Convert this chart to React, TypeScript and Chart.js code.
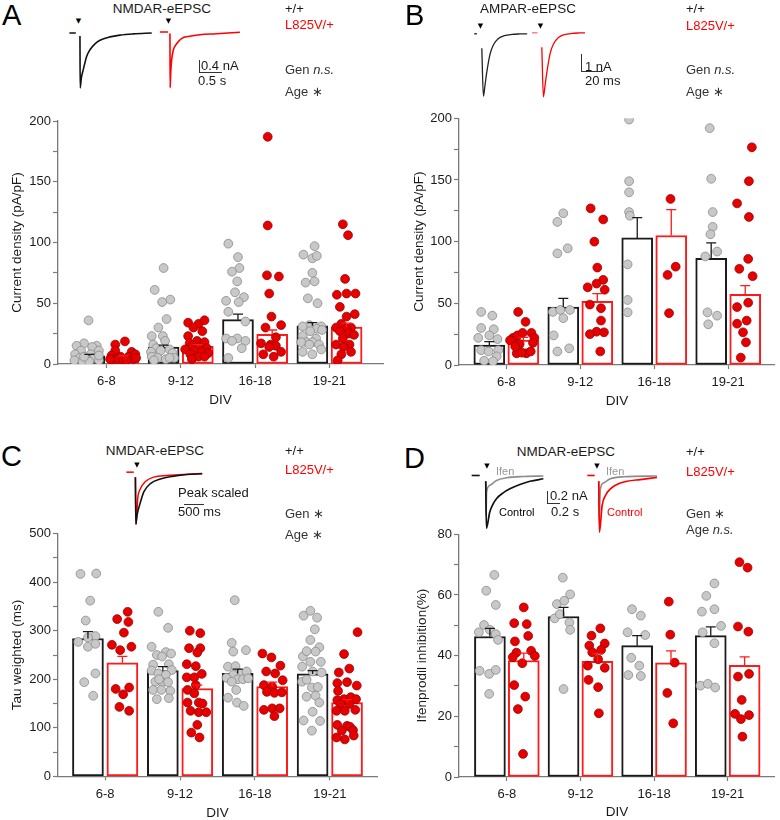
import React, { useEffect, useRef } from 'react';
import { Chart, registerables } from 'chart.js';

Chart.register(...registerables);

const FONT = "'Liberation Sans', Arial, Helvetica, sans-serif";
Chart.defaults.font.family = FONT;
Chart.defaults.font.size = 13;
Chart.defaults.color = '#1a1a1a';

type Dot = [number, number]; // [jitter in category units, value]
type Pt = [number, number];

const categories = ['6-8', '9-12', '16-18', '19-21'];

// ---------- Panel A: NMDAR current density ----------
const aWtMean = [6.8, 14, 36.5, 31.5];
const aWtSem = [1.2, 1.5, 4.5, 2.5];
const aMutMean = [5.8, 14.5, 24.4, 30.4];
const aMutSem = [1.0, 1.5, 3.6, 3.3];
const aWtDots: Dot[][] = [
  [[-0.01, 35.9], [-0.07, 17], [-0.17, 15], [0.10, 15], [0.04, 14], [-0.11, 11], [0.13, 11], [-0.19, 8], [0.02, 8], [-0.13, 5], [0.07, 5], [-0.04, 5], [-0.20, 3], [-0.09, 2], [0, 2], [0.13, 3], [0.13, 7], [-0.07, 6]],
  [[0, 79], [-0.12, 61], [0.09, 53], [-0.02, 51], [0.04, 37], [-0.07, 30], [-0.16, 23], [-0.01, 23], [0.02, 19], [-0.14, 16], [-0.10, 13], [0.08, 12], [-0.17, 10], [-0.04, 11], [0.12, 9], [-0.16, 6], [-0.08, 5], [0.03, 4], [0.14, 5], [-0.13, 3], [0.08, 5]],
  [[-0.13, 99], [0, 88], [0.02, 79], [-0.08, 76], [-0.01, 68], [-0.04, 59], [0.08, 55], [-0.16, 52], [0.01, 51], [-0.13, 43], [0.10, 35], [-0.16, 21], [-0.01, 21], [-0.08, 19], [0.10, 19], [0.05, 13], [-0.13, 5]],
  [[0.03, 97], [-0.12, 90], [0, 87], [0.06, 89], [0, 75], [-0.09, 67], [0.03, 68], [-0.06, 54], [0.07, 50], [-0.04, 32], [-0.13, 31], [0.12, 31], [0.06, 29], [0.13, 28], [-0.03, 27], [0.05, 21], [-0.13, 23], [-0.08, 18], [0, 18], [-0.15, 18], [0.09, 16], [-0.04, 16], [0.12, 12], [-0.13, 10], [0, 8]],
];
const aMutDots: Dot[][] = [
  [[0.02, 18.6], [-0.11, 16], [-0.11, 11], [0.11, 10], [0.16, 8], [-0.16, 7], [-0.04, 6], [0.07, 6], [-0.13, 4], [-0.07, 4], [0, 3], [0.13, 4], [0.17, 5], [-0.18, 4], [0.04, 3]],
  [[-0.13, 34], [0.01, 33], [0.09, 36], [-0.06, 30], [0.06, 27], [-0.13, 23], [-0.01, 19], [0.09, 18], [-0.11, 17], [-0.07, 15], [0.02, 14], [0.12, 13], [-0.17, 12], [-0.04, 11], [0.05, 10], [0.14, 9], [-0.10, 8], [0.01, 6], [0.09, 6], [-0.08, 4]],
  [[-0.06, 187], [-0.06, 114], [-0.07, 73], [0.09, 72], [-0.04, 58], [-0.01, 39], [0.12, 32], [-0.09, 30], [0.05, 22], [-0.15, 17], [-0.02, 16], [0.05, 15], [-0.04, 14], [-0.12, 8], [0.02, 6], [0.12, 10]],
  [[-0.05, 115], [0.02, 106], [-0.02, 70], [-0.13, 57], [0, 58], [0.12, 58], [-0.09, 47], [0, 39], [0.11, 41], [-0.07, 33], [0.06, 30], [-0.14, 30], [0, 29], [-0.09, 27], [0.03, 25], [0.10, 24], [-0.05, 21], [-0.14, 16], [0.04, 16], [-0.04, 14], [0.06, 10], [-0.07, 8], [-0.12, 3]],
];

// ---------- Panel B: AMPAR current density ----------
const bWtMean = [16.2, 47, 103, 86.5];
const bWtSem = [2.8, 7, 16.5, 12.5];
const bMutMean = [20.3, 51.6, 105, 57.3];
const bMutSem = [2.1, 6.2, 21, 7];
const bWtDots: Dot[][] = [
  [[-0.11, 43], [0.04, 40], [-0.11, 30], [0.06, 29], [-0.15, 22], [0, 24], [0.11, 21], [-0.11, 12], [-0.01, 11], [0.12, 12], [0.10, 7], [-0.07, 3.5], [0.05, 3]],
  [[-0.08, 116], [0, 123], [0.06, 94.6], [-0.08, 90.5], [-0.14, 43], [-0.04, 44.6], [0.09, 44.6], [0, 38], [-0.13, 24], [-0.08, 11], [0.08, 13.5]],
  [[-0.11, 199], [-0.11, 149], [-0.11, 140], [-0.11, 124], [-0.10, 121], [-0.13, 81.6], [-0.13, 52.7], [-0.13, 42.7]],
  [[-0.02, 192], [0, 151], [0.02, 124], [0.02, 112], [-0.01, 106], [-0.08, 88], [0.08, 92], [-0.05, 42.7], [0.08, 40], [-0.04, 33]],
];
const bMutDots: Dot[][] = [
  [[-0.07, 43], [0.03, 35], [-0.14, 22], [-0.08, 24], [-0.01, 26], [0.11, 26], [-0.18, 20], [0.15, 22], [0.13, 18], [-0.05, 17], [-0.09, 9.5], [0.04, 9.5], [0.10, 11], [-0.02, 10], [-0.11, 15]],
  [[-0.09, 127], [0.08, 118], [-0.04, 100], [0, 79], [0.08, 69], [-0.01, 66], [-0.13, 63], [0.10, 61], [-0.10, 49], [0.05, 46], [0.05, 36], [-0.01, 27], [0.09, 26.5], [-0.10, 25], [0.04, 11]],
  [[-0.01, 134.6], [0.06, 79.7], [-0.05, 73], [-0.03, 42]],
  [[0.09, 176.5], [0.05, 149], [-0.11, 131], [0.05, 120], [0.04, 86], [-0.08, 78], [0.10, 72], [0.04, 50.5], [-0.11, 47], [0.02, 36], [-0.11, 33.5], [-0.03, 26.5], [0.01, 18.4], [-0.06, 6]],
];

// ---------- Panel C: weighted tau ----------
const cWtMean = [284, 218, 212, 211];
const cWtSem = [14, 8, 9, 7];
const cMutMean = [234, 181, 185, 152];
const cMutSem = [13, 7, 9, 6];
const cWtDots: Dot[][] = [
  [[-0.10, 417], [0.11, 418], [0.03, 362], [-0.03, 321], [-0.13, 277], [0.10, 289], [0, 286], [0, 267], [0.10, 273], [0.10, 212], [-0.05, 194], [0.07, 166]],
  [[-0.06, 339], [0.07, 306], [-0.15, 267], [-0.08, 250], [0.04, 256], [0.11, 253], [-0.01, 247], [-0.13, 230], [0.08, 231], [0.12, 219], [-0.15, 218], [-0.06, 212], [0.04, 209], [-0.10, 195], [-0.01, 194], [0.07, 194], [-0.05, 200], [-0.13, 178], [-0.02, 178], [0.10, 176], [-0.08, 159], [0.08, 161]],
  [[-0.04, 363], [-0.08, 275], [-0.06, 257], [0.11, 260], [-0.13, 226], [-0.03, 227], [0.04, 212], [0.12, 216], [-0.06, 209], [-0.15, 203], [0, 200], [0.07, 200], [0.14, 202], [-0.08, 195], [-0.02, 178], [-0.13, 162], [-0.01, 152], [0.08, 145]],
  [[-0.12, 331], [-0.03, 341], [0.06, 327], [0.03, 303], [-0.03, 281], [0.09, 266], [-0.13, 247], [-0.08, 258], [0.04, 257], [-0.03, 236], [0.11, 236], [-0.14, 226], [0, 216], [0.12, 214], [-0.14, 195], [-0.08, 199], [-0.01, 183], [0.07, 184], [-0.08, 164], [0.04, 166], [0.09, 152], [0, 133], [0.10, 114], [-0.12, 115], [-0.01, 94]],
];
const cMutDots: Dot[][] = [
  [[-0.07, 324], [0.07, 339], [0.08, 318], [0.02, 296], [-0.14, 271], [-0.03, 260], [0.12, 267], [-0.09, 180], [0.09, 183], [0.01, 169], [-0.04, 143], [0.09, 135]],
  [[-0.10, 300], [0.04, 295], [-0.11, 264], [0.04, 264], [0, 255], [-0.14, 231], [-0.02, 227], [-0.14, 204], [-0.04, 204], [0.06, 211], [-0.13, 178], [-0.02, 188], [-0.04, 171], [-0.13, 152], [0.02, 152], [0.07, 150], [-0.09, 135], [0.02, 132], [0.12, 132], [0, 106], [-0.08, 90], [0.03, 80]],
  [[-0.13, 253], [-0.01, 245], [0.11, 228], [-0.08, 216], [0.04, 212], [0.14, 198], [-0.11, 188], [0, 185], [-0.07, 174], [0.03, 172], [0.13, 173], [-0.11, 137], [0, 140], [0.10, 140], [0.03, 124]],
  [[0.14, 297], [-0.04, 252], [0.03, 222], [-0.11, 214], [-0.13, 192], [0, 194], [0.13, 187], [-0.12, 176], [-0.04, 159], [0.05, 163], [-0.13, 157], [0.12, 159], [-0.09, 149], [0.03, 149], [0.11, 137], [-0.14, 135], [-0.03, 135], [-0.13, 106], [0, 104], [0.04, 102], [0.08, 95], [-0.07, 94], [-0.14, 80], [-0.03, 76], [0.09, 84]],
];

// ---------- Panel D: ifenprodil inhibition ----------
const dWtMean = [46.3, 52.9, 43.3, 46.6];
const dWtSem = [2.7, 3.0, 3.3, 2.9];
const dMutMean = [38.4, 38.1, 37.6, 36.8];
const dMutSem = [2.4, 2.6, 4.0, 2.8];
const dWtDots: Dot[][] = [
  [[0.06, 66.6], [-0.05, 61.4], [0.08, 56.7], [-0.08, 50.1], [-0.15, 47.7], [0, 48.5], [0.08, 47.1], [0.11, 45.2], [-0.14, 35], [-0.01, 34], [0.08, 35.3], [-0.01, 27.4]],
  [[-0.01, 65.7], [-0.09, 57], [0.01, 58.1], [0.09, 60.2], [-0.12, 52.3], [-0.05, 53.7], [0.08, 50.9], [0.09, 48.5], [0, 29]],
  [[-0.07, 55.3], [0.05, 53.2], [-0.13, 47.7], [0.11, 46.8], [-0.08, 39.3], [0.03, 36.7], [-0.12, 33.6], [0.05, 33.3]],
  [[0.05, 63.8], [-0.06, 59.7], [-0.12, 54.5], [0.05, 55.3], [0.14, 49.8], [-0.11, 47.7], [0.05, 44.1], [-0.14, 30.1], [-0.04, 30.7], [0.06, 29.5]],
];
const dMutDots: Dot[][] = [
  [[0, 55.9], [-0.13, 50.7], [0.04, 50.4], [-0.12, 44.7], [0.06, 46.5], [-0.10, 41], [0.10, 41.6], [-0.15, 39.5], [0.15, 39.9], [-0.02, 37.5], [-0.13, 30.3], [0.02, 26.5], [-0.08, 22.4], [-0.01, 7.6]],
  [[0.04, 49], [-0.08, 46.6], [0.10, 44], [-0.11, 43.3], [0.05, 41.9], [-0.07, 41.1], [0.01, 38.8], [-0.13, 36.7], [0.10, 36], [-0.12, 32], [0.01, 29.6], [0.02, 21]],
  [[-0.03, 57.8], [-0.01, 46.9], [0.05, 37.7], [-0.05, 27.7], [0.03, 17.7]],
  [[-0.07, 70.8], [0.04, 69], [-0.09, 49.6], [0.05, 47.9], [-0.09, 33.1], [0.06, 34], [-0.04, 25.4], [-0.13, 20.8], [0.06, 20.4], [-0.05, 19.1], [-0.03, 13.3]],
];

// ---------- Example traces [time, current] ----------
// A: NMDAR-eEPSC (s, nA)
const aWtBase: Pt[] = [[-0.23, 0], [-0.09, 0]];
const aWtTrace: Pt[] = [[0, -0.1], [0.005, -1.83], [0.03, -1.5], [0.072, -1.22], [0.145, -0.78], [0.217, -0.56], [0.326, -0.36], [0.435, -0.24], [0.65, -0.13], [0.87, -0.07], [1.16, -0.03], [1.56, 0]];
const aMutBase: Pt[] = [[-0.22, 0], [-0.04, 0]];
const aMutTrace: Pt[] = [[0, -0.05], [0.004, -1.86], [0.015, -1.4], [0.036, -0.94], [0.072, -0.61], [0.145, -0.39], [0.25, -0.22], [0.43, -0.14], [0.65, -0.09], [1.01, -0.06], [1.52, -0.01]];
// B: AMPAR-eEPSC (ms, nA)
const bWtBase: Pt[] = [[-7, 0], [-4.6, 0]];
const bWtTrace: Pt[] = [[0, -0.9], [1.5, -3.9], [3, -3.2], [4.6, -2.4], [7.7, -1.25], [10.7, -0.7], [15.4, -0.3], [21, -0.12], [28, -0.04], [35, -0.01], [42, 0]];
const bMutBase: Pt[] = [[-9, 0], [-4, 0]];
const bMutTrace: Pt[] = [[0, -0.9], [1.5, -4.0], [3, -3.3], [4.6, -2.5], [7.7, -1.3], [10.7, -0.72], [15.4, -0.3], [21, -0.12], [28, -0.04], [35, -0.01], [40, 0]];
// C: peak-scaled NMDAR-eEPSC (s, normalized)
const cWtTrace: Pt[] = [[0, -0.1], [0.01, -1], [0.04, -0.83], [0.125, -0.58], [0.21, -0.38], [0.375, -0.22], [0.625, -0.13], [0.96, -0.077], [1.29, -0.045], [1.67, -0.03]];
const cMutBase: Pt[] = [[-0.225, 0], [-0.04, 0]];
const cMutTrace: Pt[] = [[0, -0.1], [0.017, -1], [0.058, -0.51], [0.125, -0.32], [0.25, -0.18], [0.46, -0.096], [0.79, -0.064], [1.21, -0.045], [1.67, -0.026]];
// D: control vs ifenprodil (s, nA)
const dWtBase: Pt[] = [[-0.21, 0], [-0.09, 0]];
const dWtControl: Pt[] = [[0, -0.1], [0.01, -0.91], [0.06, -0.63], [0.11, -0.49], [0.16, -0.40], [0.26, -0.30], [0.36, -0.23], [0.51, -0.155], [0.66, -0.10], [0.86, -0.057]];
const dWtIfen: Pt[] = [[0, -0.1], [0.005, -0.7], [0.012, -0.29], [0.06, -0.17], [0.16, -0.086], [0.31, -0.04], [0.56, -0.017], [0.86, -0.01]];
const dMutBase: Pt[] = [[-0.17, 0], [-0.06, 0]];
const dMutControl: Pt[] = [[0, -0.1], [0.01, -0.98], [0.05, -0.52], [0.1, -0.345], [0.174, -0.23], [0.27, -0.155], [0.42, -0.10], [0.62, -0.07], [0.87, -0.035]];
const dMutIfen: Pt[] = [[0, -0.1], [0.005, -0.75], [0.025, -0.23], [0.075, -0.126], [0.174, -0.057], [0.37, -0.023], [0.87, -0.01]];

// ---------- styling ----------
const OFF = 0.23;
const BAR_PX = 31;
const AXIS = '#7a7a7a';
const WT_LINE = '#1a1a1a';
const MUT_LINE = '#ff1a1a';
const RED = '#ff0000';
const TITLE_SIZE = 13.5;

type PanelCfg = {
  left: number; top: number; width: number; height: number;
  padTop: number; padRight: number; yWidth: number; xHeight: number;
  xMin: number; xMax: number; yMax: number; yStep: number; yLabelStep: number;
  yTitle: string; yTitlePad: number; xTitlePad: number;
  wtMean: number[]; wtSem: number[]; mutMean: number[]; mutSem: number[];
  wtDots: Dot[][]; mutDots: Dot[][];
};

function BarDotChart({ cfg }: { cfg: PanelCfg }) {
  const ref = useRef<HTMLCanvasElement>(null);
  useEffect(() => {
    if (!ref.current) return;
    const flat = (dots: Dot[][], off: number) =>
      dots.flatMap((g, i) => g.map(([dx, v]) => ({ x: i + off + dx, y: v })));
    const errPlugin = {
      id: 'errbars',
      afterDatasetsDraw(chart: any) {
        const { ctx } = chart;
        const xs = chart.scales.x, ys = chart.scales.y;
        const draw = (means: number[], sems: number[], off: number, color: string) => {
          means.forEach((m, i) => {
            const px = xs.getPixelForValue(i + off);
            const y0 = ys.getPixelForValue(m);
            const y1 = ys.getPixelForValue(m + sems[i]);
            ctx.save();
            ctx.strokeStyle = color;
            ctx.lineWidth = 1.3;
            ctx.beginPath();
            ctx.moveTo(px, y0);
            ctx.lineTo(px, y1);
            ctx.moveTo(px - 5, y1);
            ctx.lineTo(px + 5, y1);
            ctx.stroke();
            ctx.restore();
          });
        };
        draw(cfg.wtMean, cfg.wtSem, -OFF, WT_LINE);
        draw(cfg.mutMean, cfg.mutSem, OFF, MUT_LINE);
      },
    };
    const chart = new Chart(ref.current, {
      type: 'bar',
      data: {
        datasets: [
          {
            type: 'scatter', data: flat(cfg.wtDots, -OFF), order: 1,
            pointRadius: 4.4, backgroundColor: '#c8c8c8', borderColor: '#8a8a8a', borderWidth: 0.8,
          } as any,
          {
            type: 'scatter', data: flat(cfg.mutDots, OFF), order: 1,
            pointRadius: 4.4, backgroundColor: '#e60000', borderColor: '#990000', borderWidth: 0.8,
          } as any,
          {
            type: 'bar', data: cfg.wtMean.map((m, i) => ({ x: i - OFF, y: m })), order: 3,
            barThickness: BAR_PX, grouped: false, backgroundColor: '#ffffff', borderColor: WT_LINE,
            borderWidth: 2, borderSkipped: false,
          } as any,
          {
            type: 'bar', data: cfg.mutMean.map((m, i) => ({ x: i + OFF, y: m })), order: 3,
            barThickness: BAR_PX, grouped: false, backgroundColor: '#ffffff', borderColor: MUT_LINE,
            borderWidth: 2, borderSkipped: false,
          } as any,
        ],
      },
      options: {
        animation: false,
        responsive: false,
        devicePixelRatio: 1,
        events: [],
        layout: { padding: { left: 0, top: cfg.padTop, right: cfg.padRight, bottom: 0 } },
        plugins: { legend: { display: false }, tooltip: { enabled: false } },
        scales: {
          x: {
            type: 'linear', min: cfg.xMin, max: cfg.xMax, offset: false,
            afterBuildTicks: (s: any) => { s.ticks = categories.map((_, i) => ({ value: i })); },
            afterFit: (s: any) => { s.height = cfg.xHeight; },
            ticks: {
              autoSkip: false, maxRotation: 0, padding: 6, color: '#1a1a1a', font: { size: 13 },
              callback: (v: any) => categories[Math.round(Number(v))] ?? '',
            },
            grid: { display: true, offset: false, drawOnChartArea: false, drawTicks: true, tickLength: 4, color: AXIS, tickWidth: 1.2 },
            border: { display: true, color: AXIS, width: 1.3 },
            title: { display: true, text: 'DIV', color: '#1a1a1a', font: { size: TITLE_SIZE, lineHeight: 1 }, padding: { top: 0, bottom: cfg.xTitlePad } },
          },
          y: {
            type: 'linear', min: 0, max: cfg.yMax,
            afterFit: (s: any) => { s.width = cfg.yWidth; },
            ticks: {
              stepSize: cfg.yStep, padding: 2, color: '#1a1a1a', font: { size: 13 },
              callback: (v: any) => (Math.round(Number(v)) % cfg.yLabelStep === 0 ? String(v) : ''),
            },
            grid: { display: true, drawOnChartArea: false, drawTicks: true, tickLength: 5, color: AXIS, tickWidth: 1.2 },
            border: { display: true, color: AXIS, width: 1.3 },
            title: { display: true, text: cfg.yTitle, color: '#1a1a1a', font: { size: TITLE_SIZE, lineHeight: 1 }, padding: { top: cfg.yTitlePad, bottom: 0 } },
          },
        },
      } as any,
      plugins: [errPlugin],
    });
    return () => chart.destroy();
  }, [cfg]);
  return (
    <canvas
      ref={ref}
      width={cfg.width}
      height={cfg.height}
      style={{ position: 'absolute', left: cfg.left, top: cfg.top, width: cfg.width, height: cfg.height }}
    />
  );
}

type TraceSeries = { pts: Pt[]; color: string; w: number };
type TraceCfg = {
  x0: number; y0: number; sx: number; sy: number;
  xMin: number; xMax: number; yMin: number; yMax: number;
  series: TraceSeries[];
};

function Trace({ cfg }: { cfg: TraceCfg }) {
  const ref = useRef<HTMLCanvasElement>(null);
  const width = Math.round((cfg.xMax - cfg.xMin) * cfg.sx);
  const height = Math.round((cfg.yMax - cfg.yMin) * cfg.sy);
  const left = cfg.x0 + cfg.xMin * cfg.sx;
  const top = cfg.y0 - cfg.yMax * cfg.sy;
  useEffect(() => {
    if (!ref.current) return;
    const chart = new Chart(ref.current, {
      type: 'line',
      data: {
        datasets: cfg.series.map((s) => ({
          data: s.pts.map(([x, y]) => ({ x, y })),
          borderColor: s.color,
          borderWidth: s.w,
          pointRadius: 0,
          cubicInterpolationMode: 'monotone',
          fill: false,
          clip: false,
        })),
      },
      options: {
        animation: false,
        responsive: false,
        devicePixelRatio: 1,
        events: [],
        layout: { padding: 0 },
        plugins: { legend: { display: false }, tooltip: { enabled: false } },
        scales: {
          x: { type: 'linear', display: false, min: cfg.xMin, max: cfg.xMin + width / cfg.sx },
          y: { type: 'linear', display: false, min: cfg.yMax - height / cfg.sy, max: cfg.yMax },
        },
      } as any,
    });
    return () => chart.destroy();
  }, [cfg]);
  return (
    <canvas
      ref={ref}
      width={width}
      height={height}
      style={{ position: 'absolute', left, top, width, height }}
    />
  );
}

function Txt({ x, y, size = 13, color = '#1a1a1a', center = false, children }: any) {
  const style: React.CSSProperties = {
    position: 'absolute', top: y - 0.13 * size, fontSize: size, lineHeight: 1,
    color, fontFamily: FONT, whiteSpace: 'nowrap',
  };
  if (center) {
    style.left = x - 150; style.width = 300; style.textAlign = 'center';
  } else {
    style.left = x;
  }
  return <div style={style}>{children}</div>;
}

function Arrow({ x, y }: { x: number; y: number }) {
  return (
    <div style={{
      position: 'absolute', left: x - 5, top: y - 0.5, width: 10, textAlign: 'center',
      fontSize: 7, lineHeight: 1, color: '#000', fontFamily: "'DejaVu Sans', sans-serif",
    }}>▼</div>
  );
}

function Bar({ x, y, w, h }: { x: number; y: number; w: number; h: number }) {
  return <div style={{ position: 'absolute', left: x, top: y, width: w, height: h, background: '#333' }} />;
}

const panelA: PanelCfg = {
  left: 0, top: 100, width: 390, height: 310, padTop: 21, padRight: 7, yWidth: 58, xHeight: 46,
  xMin: -0.65, xMax: 3.72, yMax: 200, yStep: 25, yLabelStep: 50,
  yTitle: 'Current density (pA/pF)', yTitlePad: 11, xTitlePad: 2.5,
  wtMean: aWtMean, wtSem: aWtSem, mutMean: aMutMean, mutSem: aMutSem, wtDots: aWtDots, mutDots: aMutDots,
};
const panelB: PanelCfg = {
  left: 390, top: 100, width: 390, height: 310, padTop: 18.3, padRight: 2, yWidth: 69, xHeight: 45,
  xMin: -0.64, xMax: 3.63, yMax: 200, yStep: 25, yLabelStep: 50,
  yTitle: 'Current density (pA/pF)', yTitlePad: 22.5, xTitlePad: 1.5,
  wtMean: bWtMean, wtSem: bWtSem, mutMean: bMutMean, mutSem: bMutSem, wtDots: bWtDots, mutDots: bMutDots,
};
const panelC: PanelCfg = {
  left: 0, top: 510, width: 390, height: 310, padTop: 23.7, padRight: 13, yWidth: 58, xHeight: 43.7,
  xMin: -0.63, xMax: 3.63, yMax: 500, yStep: 50, yLabelStep: 100,
  yTitle: 'Tau weighted (ms)', yTitlePad: 11, xTitlePad: 0.2,
  wtMean: cWtMean, wtSem: cWtSem, mutMean: cMutMean, mutSem: cMutSem, wtDots: cWtDots, mutDots: cMutDots,
};
const panelD: PanelCfg = {
  left: 390, top: 510, width: 390, height: 310, padTop: 24.3, padRight: 2, yWidth: 69, xHeight: 43,
  xMin: -0.65, xMax: 3.64, yMax: 80, yStep: 10, yLabelStep: 20,
  yTitle: 'Ifenprodil inhibition(%)', yTitlePad: 25.5, xTitlePad: 0.5,
  wtMean: dWtMean, wtSem: dWtSem, mutMean: dMutMean, mutSem: dMutSem, wtDots: dWtDots, mutDots: dMutDots,
};

const GRAY_TRACE = '#8c8c8c';
const traces: TraceCfg[] = [
  { x0: 80, y0: 33, sx: 46, sy: 30, xMin: -0.26, xMax: 1.62, yMin: -1.95, yMax: 0.1,
    series: [{ pts: aWtBase, color: '#111', w: 1.5 }, { pts: aWtTrace, color: '#111', w: 1.6 }] },
  { x0: 170, y0: 31.7, sx: 46, sy: 30, xMin: -0.26, xMax: 1.62, yMin: -1.95, yMax: 0.1,
    series: [{ pts: aMutBase, color: RED, w: 1.5 }, { pts: aMutTrace, color: RED, w: 1.6 }] },
  { x0: 481.7, y0: 33.3, sx: 1.08, sy: 16, xMin: -10, xMax: 45, yMin: -4.2, yMax: 0.3,
    series: [{ pts: bWtBase, color: '#111', w: 1.3 }, { pts: bWtTrace, color: '#222', w: 1.3 }] },
  { x0: 541.5, y0: 32.3, sx: 1.08, sy: 16, xMin: -10, xMax: 45, yMin: -4.2, yMax: 0.3,
    series: [{ pts: bMutBase, color: '#ff7070', w: 1.3 }, { pts: bMutTrace, color: RED, w: 1.3 }] },
  { x0: 135, y0: 471.7, sx: 40, sy: 52, xMin: -0.26, xMax: 1.75, yMin: -1.05, yMax: 0.08,
    series: [{ pts: cWtTrace, color: '#111', w: 1.6 }, { pts: cMutBase, color: RED, w: 1.5 }, { pts: cMutTrace, color: RED, w: 1.5 }] },
  { x0: 486, y0: 475, sx: 67, sy: 58, xMin: -0.25, xMax: 0.92, yMin: -1.02, yMax: 0.06,
    series: [{ pts: dWtBase, color: '#111', w: 1.6 }, { pts: dWtControl, color: '#111', w: 1.7 }, { pts: dWtIfen, color: GRAY_TRACE, w: 1.6 }] },
  { x0: 598.3, y0: 475, sx: 67, sy: 58, xMin: -0.25, xMax: 0.92, yMin: -1.02, yMax: 0.06,
    series: [{ pts: dMutBase, color: RED, w: 1.6 }, { pts: dMutControl, color: RED, w: 1.7 }, { pts: dMutIfen, color: GRAY_TRACE, w: 1.6 }] },
];

const TXT2 = '#333';

export default function App() {
  return (
    <div style={{ position: 'absolute', left: 0, top: 0, width: 780, height: 820, background: '#fff', overflow: 'hidden', fontFamily: FONT }}>
      <BarDotChart cfg={panelA} />
      <BarDotChart cfg={panelB} />
      <BarDotChart cfg={panelC} />
      <BarDotChart cfg={panelD} />
      {traces.map((t, i) => <Trace key={i} cfg={t} />)}

      {/* Panel letters */}
      <Txt x={2} y={5} size={29} color="#000">A</Txt>
      <Txt x={405} y={5} size={29} color="#000">B</Txt>
      <Txt x={1} y={446} size={29} color="#000">C</Txt>
      <Txt x={404} y={448} size={29} color="#000">D</Txt>

      {/* Panel A annotations */}
      <Txt x={162} y={3.3} size={13.5} center>NMDAR-eEPSC</Txt>
      <Txt x={285} y={3.5}>+/+</Txt>
      <Txt x={285} y={20} color={RED}>L825V/+</Txt>
      <Txt x={285} y={65} color={TXT2}>Gen <i>n.s.</i></Txt>
      <Txt x={285} y={86.7} color={TXT2}>Age ∗</Txt>
      <Arrow x={78.5} y={18} />
      <Arrow x={168.5} y={18} />
      <Bar x={199} y={60} w={1} h={12.5} />
      <Bar x={199} y={71.5} w={23} h={1} />
      <Txt x={201} y={61}>0.4 nA</Txt>
      <Txt x={198} y={76}>0.5 s</Txt>

      {/* Panel B annotations */}
      <Txt x={528} y={3.3} size={13.5} center>AMPAR-eEPSC</Txt>
      <Txt x={686} y={3.5}>+/+</Txt>
      <Txt x={686} y={20.7} color={RED}>L825V/+</Txt>
      <Txt x={686} y={65} color={TXT2}>Gen <i>n.s.</i></Txt>
      <Txt x={686} y={86.7} color={TXT2}>Age ∗</Txt>
      <Arrow x={480.5} y={23.5} />
      <Arrow x={540.5} y={23.5} />
      <Bar x={581} y={54} w={1} h={17.5} />
      <Bar x={581} y={70.5} w={22} h={1} />
      <Txt x={585} y={61.5}>1 nA</Txt>
      <Txt x={585} y={76}>20 ms</Txt>

      {/* Panel C annotations */}
      <Txt x={155} y={445.7} size={13.5} center>NMDAR-eEPSC</Txt>
      <Txt x={285} y={446}>+/+</Txt>
      <Txt x={285} y={464.3} color={RED}>L825V/+</Txt>
      <Txt x={285} y={509} color={TXT2}>Gen ∗</Txt>
      <Txt x={285} y={530} color={TXT2}>Age ∗</Txt>
      <Arrow x={137} y={462} />
      <Txt x={178} y={488}>Peak scaled</Txt>
      <Bar x={184} y={503.5} w={20} h={1} />
      <Txt x={178} y={506.5}>500 ms</Txt>

      {/* Panel D annotations */}
      <Txt x={566} y={446.7} size={13.5} center>NMDAR-eEPSC</Txt>
      <Txt x={686} y={447}>+/+</Txt>
      <Txt x={686} y={466.7} color={RED}>L825V/+</Txt>
      <Txt x={686} y={508.5} color={TXT2}>Gen ∗</Txt>
      <Txt x={686} y={525} color={TXT2}>Age <i>n.s.</i></Txt>
      <Arrow x={487} y={463} />
      <Arrow x={597} y={463} />
      <Txt x={496} y={467} size={11} color="#999">Ifen</Txt>
      <Txt x={606} y={467} size={11} color="#999">Ifen</Txt>
      <Txt x={499} y={508} size={11} color="#000">Control</Txt>
      <Txt x={607} y={508} size={11} color={RED}>Control</Txt>
      <Bar x={547} y={491} w={1} h={12.5} />
      <Bar x={547} y={502.5} w={13} h={1} />
      <Txt x={550} y={491}>0.2 nA</Txt>
      <Txt x={551} y={507}>0.2 s</Txt>
    </div>
  );
}
